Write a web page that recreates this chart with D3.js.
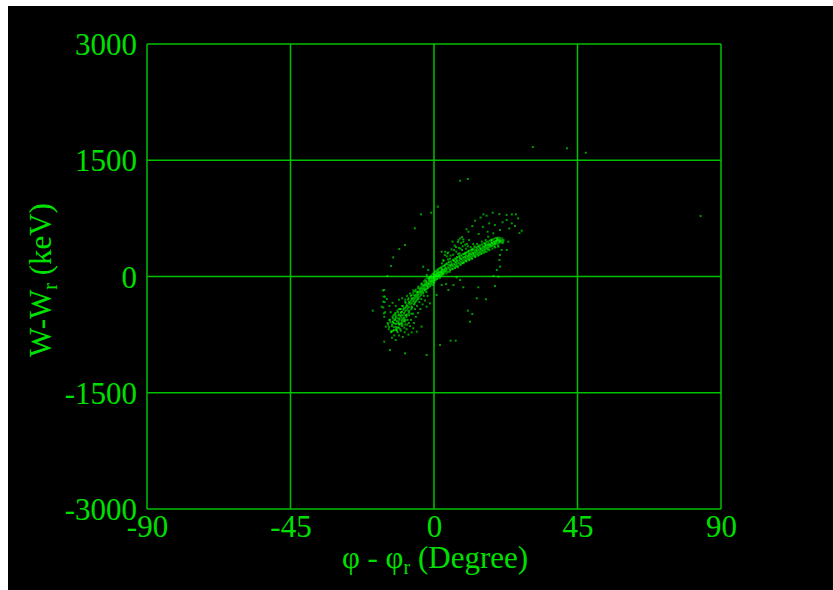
<!DOCTYPE html>
<html><head><meta charset="utf-8">
<script src="https://cdn.jsdelivr.net/npm/d3@7"></script>
<style>
html,body{margin:0;padding:0;background:#fff;}
svg{display:block;}
</style></head>
<body>
<script>
// ---- data (phi - phi_r in degrees, W - W_r in keV) ----
const xTicks = [-90, -45, 0, 45, 90];
const yTicks = [-3000, -1500, 0, 1500, 3000];

const bandCore = [
[-13.2,-640],[-12.9,-590],[-12.6,-655],[-12.4,-560],[-12.1,-610],[-11.9,-520],[-11.7,-575],[-11.4,-540],[-11.2,-600],[-11.0,-490],
[-10.8,-555],[-10.6,-510],[-10.4,-470],[-10.2,-530],[-10.0,-455],[-9.8,-500],[-9.6,-430],[-9.4,-470],[-9.2,-410],[-9.0,-450],
[-8.8,-395],[-8.6,-430],[-8.4,-380],[-8.2,-410],[-8.0,-350],[-7.8,-390],[-7.6,-335],[-7.4,-360],[-7.2,-310],[-7.0,-345],
[-6.8,-290],[-6.6,-320],[-6.4,-275],[-6.2,-300],[-6.0,-255],[-5.8,-280],[-5.6,-235],[-5.4,-260],[-5.2,-220],[-5.0,-240],
[-4.8,-195],[-4.6,-220],[-4.4,-180],[-4.2,-200],[-4.0,-160],[-3.8,-185],[-3.6,-145],[-3.4,-165],[-3.2,-125],[-3.0,-150],
[-12.0,-650],[-11.0,-610],[-10.0,-560],[-9.0,-500],[-8.0,-450],[-7.0,-390],[-6.0,-330],[-5.0,-270],[-4.0,-215],[-3.0,-170],[-2.0,-120],
[-14.0,-560],[-13.0,-520],[-12.0,-470],[-11.0,-420],[-10.0,-380],[-9.0,-330],[-8.0,-280],[-7.0,-240],[-6.0,-190],[-5.0,-150],[-4.0,-100],
[-2.8,-110],[-2.6,-130],[-2.4,-95],[-2.2,-115],[-2.0,-80],[-1.8,-100],[-1.6,-65],[-1.4,-85],[-1.2,-50],[-1.0,-70],
[-0.8,-35],[-0.6,-55],[-0.4,-20],[-0.2,-40],[0.0,-5],[0.2,-25],[0.4,10],[0.6,-10],[0.8,25],[1.0,5],
[1.2,40],[1.4,20],[1.6,50],[1.8,30],[2.0,65],[2.2,45],[2.4,75],[2.6,55],[2.8,85],[3.0,65],
[-2.5,-60],[-1.5,-30],[-0.5,0],[0.5,30],[1.5,60],[2.5,90],[-2.0,-150],[-1.0,-100],[0.0,-60],[1.0,-30],[2.0,0],[3.0,30],
[-1.7,-45],[-0.9,-20],[-0.1,-15],[0.7,15],[1.3,5],[-0.3,-75],[0.3,-40],[1.1,55],[-1.1,-5],[0.1,20],
[3.2,95],[3.5,75],[3.8,110],[4.1,90],[4.4,120],[4.7,105],[5.0,140],[5.3,120],[5.6,150],[5.9,135],
[6.2,165],[6.5,150],[6.8,180],[7.1,160],[7.4,195],[7.7,175],[8.0,210],[8.3,190],[8.6,225],[8.9,205],
[9.2,240],[9.5,220],[9.8,255],[10.1,235],[10.4,265],[10.7,250],[11.0,280],[11.3,260],[11.6,290],[11.9,275],
[12.2,305],[12.5,285],[12.8,315],[13.1,300],[13.4,330],[13.7,310],[14.0,345],[14.3,325],[14.6,355],[14.9,340],
[15.2,370],[15.5,350],[15.8,380],[16.1,365],[16.4,395],[16.7,375],[17.0,405],[17.3,390],[17.6,420],[17.9,400],
[18.2,430],[18.5,415],[18.8,445],[19.1,425],[19.4,455],[19.7,440],[20.0,465],[20.4,450],[20.8,475],[21.2,460],
[4.0,170],[6.0,215],[8.0,260],[10.0,300],[12.0,340],[14.0,385],[16.0,420],[18.0,460],[20.0,500],
[5.0,90],[7.0,130],[9.0,175],[11.0,215],[13.0,260],[15.0,300],[17.0,345],[19.0,385]
];

const bandCore2 = [
[-3.8,-90],[-3.5,-200],[-3.1,-60],[-2.9,-180],[-2.7,-40],[-2.3,-160],[-2.1,-20],[-1.9,-140],[-1.5,-100],[-1.3,-10],
[-1.1,-120],[-0.9,10],[-0.7,-90],[-0.5,30],[-0.3,-110],[-0.1,40],[0.1,-80],[0.3,60],[0.5,-50],[0.7,70],
[0.9,-30],[1.1,90],[1.3,-10],[1.5,100],[1.7,10],[1.9,110],[2.1,20],[2.3,120],[2.5,35],[2.7,130],
[2.9,45],[3.1,140],[3.3,55],[3.5,150],[3.7,70],[3.9,160],
[4.3,60],[4.6,180],[5.1,80],[5.4,195],[5.7,100],[6.1,215],[6.4,115],[6.7,230],[7.0,130],[7.3,245],
[7.6,140],[7.9,260],[8.2,160],[8.5,275],[8.8,175],[9.1,290],[9.4,190],[9.7,305],[10.0,210],[10.3,315],
[10.6,225],[10.9,330],[11.2,235],[11.5,345],[11.8,250],[12.1,355],[12.4,265],[12.7,370],[13.0,275],[13.3,380],
[13.6,290],[13.9,395],[14.2,305],[14.5,405],[14.8,320],[15.1,415],[15.4,330],[15.7,430],[16.0,345],[16.3,440],
[16.6,360],[16.9,450],[17.2,370],[17.5,465],[17.8,385],[18.1,475],[18.4,395],[18.7,485],[19.0,410],[19.3,495],
[19.6,420],[19.9,480],[20.3,430],[20.6,500],[21.0,440],[21.4,490],
[-4.5,-260],[-4.9,-130],[-5.3,-300],[-5.7,-170],[-6.1,-350],[-6.5,-210],[-6.9,-400],[-7.3,-250],[-7.7,-440],[-8.1,-300],
[-8.5,-490],[-8.9,-340],[-9.3,-530],[-9.7,-380],[-10.1,-580],[-10.5,-420],[-10.9,-620],[-11.3,-460],[-11.7,-660],[-12.1,-500],
[-12.5,-690],[-12.9,-540],[-13.3,-700],[-13.7,-590],[-14.1,-650],[-14.4,-620],
[-1.6,-20],[-0.8,-60],[0.2,15],[0.9,45],[1.6,25],[2.4,100],[-2.4,-75],[-3.3,-110],[-4.2,-140],[-5.1,-200]
];

const bandCore3 = [
[1.2,80],[1.8,-20],[2.6,20],[3.4,130],[3.9,40],[4.5,150],[4.9,60],[5.5,170],[5.9,95],[6.3,200],
[6.6,110],[7.2,210],[7.5,120],[8.1,240],[8.4,150],[8.9,260],[9.3,170],[9.9,280],[10.2,195],[10.8,300],
[11.1,210],[11.7,320],[12.0,230],[12.6,340],[12.9,250],[13.5,360],[13.8,270],[14.4,375],[14.7,290],[15.3,390],
[15.6,305],[16.2,410],[16.5,320],[17.1,425],[17.4,340],[18.0,440],[18.3,360],[18.9,455],[19.2,375],[19.8,470],
[20.1,400],[20.7,455],[21.5,430],[21.8,470],
[2.2,60],[3.6,100],[5.2,150],[6.8,190],[8.4,230],[9.6,250],[10.9,270],[12.3,300],[13.2,340],[14.6,360],
[15.9,390],[16.8,410],[18.3,430],[19.5,460],[20.5,470],
[-1.4,-130],[-2.6,-170],[-3.4,-220],[-4.1,-240],[-4.9,-290],[-5.6,-320],[-6.3,-360],[-7.1,-420],[-7.9,-470],[-8.6,-520],
[-9.4,-560],[-10.2,-610],[-11.0,-660],[-11.8,-690],[-2.9,-90],[-3.7,-120],[-4.5,-160],[-5.4,-200],[-6.2,-240],[-7.0,-280],
[-7.8,-330],[-8.6,-370],[-9.5,-410],[-10.3,-460],[-11.2,-500],[-12.1,-540],[-12.9,-580]
];

const bandFuzz = [
[3.0,200],[4.0,260],[4.5,310],[5.0,230],[5.5,350],[6.0,280],[6.5,400],[7.0,320],[7.2,250],[7.8,370],
[8.0,300],[8.5,430],[8.8,340],[9.0,390],[9.5,290],[10.0,360],[10.3,420],[10.8,330],[11.0,470],[11.5,380],
[12.0,350],[3.5,320],[5.8,450],[9.2,480],[6.8,230],[12.3,420],[2.5,170],[4.8,190],[7.5,445],[8.8,510],
[2.4,320],[3.4,277],[2.9,213],[4.2,299],[-3.4,126],[-1.8,84],[-2.3,19],[17.0,513],[18.1,471],[19.1,428],
[19.7,493],[17.6,406],[20.2,384],[13.5,420],[15.0,450],[16.2,470],[14.2,280],[16.0,320],[11.8,230],[10.0,200],
[6.3,340],[7.6,290],[9.8,410],[5.2,270],[8.3,360],[10.6,390],[4.4,220],[6.9,380],[11.2,300],[12.7,390]
];

const lowerBlob = [
[-16.0,-180],[-15.8,-260],[-15.5,-330],[-15.9,-400],[-15.3,-460],[-15.6,-520],[-14.8,-290],[-14.5,-600],[-14.2,-680],[-13.8,-560],
[-13.5,-720],[-13.6,-460],[-13.2,-790],[-12.8,-700],[-12.5,-760],[-12.3,-480],[-12.0,-820],[-11.6,-700],[-11.3,-660],[-11.0,-760],
[-10.7,-620],[-10.4,-700],[-10.0,-640],[-9.8,-780],[-9.5,-580],[-9.2,-720],[-9.0,-620],[-8.6,-680],[-8.3,-560],[-8.0,-750],
[-7.8,-500],[-7.5,-640],[-7.2,-560],[-7.0,-720],[-6.6,-480],[-6.3,-600],[-6.0,-420],[-5.7,-520],[-5.3,-380],[-5.0,-470],
[-4.6,-330],[-4.3,-420],[-4.0,-290],[-3.6,-360],[-3.2,-250],[-2.8,-310],[-2.4,-200],[-2.0,-250],[-14.0,-380],[-13.0,-340],
[-12.0,-380],[-11.0,-300],[-10.5,-420],[-10.0,-280],[-9.0,-300],[-8.5,-250],[-7.5,-220],[-6.5,-180],[-11.5,-440],[-12.7,-500],
[-12.2,-560],[-11.8,-610],[-10.9,-540],[-10.2,-600],[-9.6,-540],[-8.9,-560],[-8.4,-620],[-9.3,-660],[-10.6,-680],[-11.4,-720],
[-13.1,-620],[-12.6,-600],[-11.9,-680],[-11.1,-580],[-10.3,-500],[-9.9,-620],[-9.1,-580],[-8.7,-500],[-7.9,-600],[-7.1,-480]
];

const halo = [
[-6.0,622],[-9.1,406],[-10.9,355],[-12.8,247],[-13.5,135],[-14.6,6],[-19.2,-441],
[-15.6,-174],[-15.4,-260],[-15.9,-325],[-16.4,-390],[-15.7,-475],[-15.1,-647],[-13.3,-712],[-15.6,-841],
[-13.8,-948],[-9.1,-991],[-2.3,-1013],[1.9,-884],[5.2,-828],[6.8,-828],[11.3,-583],[10.6,-441],[12.0,-484],
[13.4,-281],[16.3,-294],[9.2,-139],[13.9,-139],[19.1,-123],[4.5,-174],[6.1,-110],[3.8,-97],[2.4,-110],
[8.2,-45],[7.1,-10],[0.8,-239],[-1.3,-346],[-2.3,-390],[-3.9,-647],[-5.4,-712],[-6.5,-668],
[21.7,449],[21.2,342],[20.7,277],[20.5,213],[20.7,127],[19.7,84],[18.6,6],[20.2,-3],[22.8,342],[23.3,449],
[12.9,720],[15.5,802],[16.5,785],[18.4,823],[20.5,806],[22.8,793],[24.4,802],[25.7,802],[26.4,750],[25.4,651],
[27.5,591],[24.4,686],[22.8,729],[17.3,686],[19.1,664],[16.8,578],[18.6,557],[20.7,600],[10.8,578],[10.2,609],
[8.2,493],[7.7,471],[9.2,449],[14.0,548],[15.3,640],[21.5,700],[23.6,620],[14.6,760],[12.0,650],[26.8,560]
];

const outliers = [
[8.2,1236],[10.6,1258],[31.0,1670],[41.7,1654],[47.6,1597],[83.6,780],[1.2,901],[-0.9,823],[-4.1,802]
];

// ---- drawing ----
const W = 833, H = 590;
const GREEN_TXT = "#00e000", GREEN_LINE = "#00c000";
const svg = d3.select("body").append("svg").attr("width", W).attr("height", H);
svg.append("rect").attr("width", W).attr("height", H).attr("fill", "#fff");
svg.append("rect").attr("x", 8).attr("y", 6).attr("width", W - 8).attr("height", H - 6).attr("fill", "#000");

const x = d3.scaleLinear().domain([-90, 90]).range([147, 721]);
const y = d3.scaleLinear().domain([-3000, 3000]).range([509, 44]);

// grid
const g = svg.append("g").attr("stroke", GREEN_LINE).attr("stroke-width", 1.5).attr("fill", "none");
g.selectAll("line.v").data(xTicks).join("line").attr("class", "v")
  .attr("x1", d => x(d)).attr("x2", d => x(d)).attr("y1", y(3000)).attr("y2", y(-3000));
g.selectAll("line.h").data(yTicks).join("line").attr("class", "h")
  .attr("y1", d => y(d)).attr("y2", d => y(d)).attr("x1", x(-90)).attr("x2", x(90));

// axes labels
const fontFam = "'Liberation Serif', 'Times New Roman', serif";
const fmt = d => String(d);
const ax = svg.append("g").attr("transform", `translate(0,${y(-3000)})`)
  .call(d3.axisBottom(x).tickValues(xTicks).tickSize(0).tickPadding(6).tickFormat(fmt));
const ay = svg.append("g").attr("transform", `translate(${x(-90)},0)`)
  .call(d3.axisLeft(y).tickValues(yTicks).tickSize(0).tickPadding(10).tickFormat(fmt));
[ax, ay].forEach(a => {
  a.select(".domain").remove();
  a.selectAll("text").attr("fill", GREEN_TXT).style("font-family", fontFam).style("font-size", "31px");
});
ax.selectAll("text").attr("dy", "0.71em");
ay.selectAll("text").attr("dy", "0.34em");

// points
const pts = bandCore.concat(bandCore2, bandCore3, bandFuzz, lowerBlob, halo, outliers);
svg.append("g").selectAll("rect").data(pts).join("rect")
  .attr("x", d => x(d[0]) - 1).attr("y", d => y(d[1]) - 1)
  .attr("width", 2).attr("height", 2)
  .attr("fill", "#00ff00").attr("fill-opacity", 0.6);

// titles
const xt = svg.append("text").attr("x", 435).attr("y", 568).attr("text-anchor", "middle")
  .attr("fill", GREEN_TXT).style("font-family", fontFam).style("font-size", "31px");
xt.append("tspan").text("φ - φ");
xt.append("tspan").text("r").attr("dy", 6).style("font-size", "20px");
xt.append("tspan").text(" (Degree)").attr("dy", -6);

const yt = svg.append("text").attr("transform", "translate(51,280) rotate(-90)").attr("text-anchor", "middle")
  .attr("fill", GREEN_TXT).style("font-family", fontFam).style("font-size", "31px");
yt.append("tspan").text("W-W");
yt.append("tspan").text("r").attr("dy", 6).style("font-size", "20px");
yt.append("tspan").text(" (keV)").attr("dy", -6);
</script>
</body></html>
